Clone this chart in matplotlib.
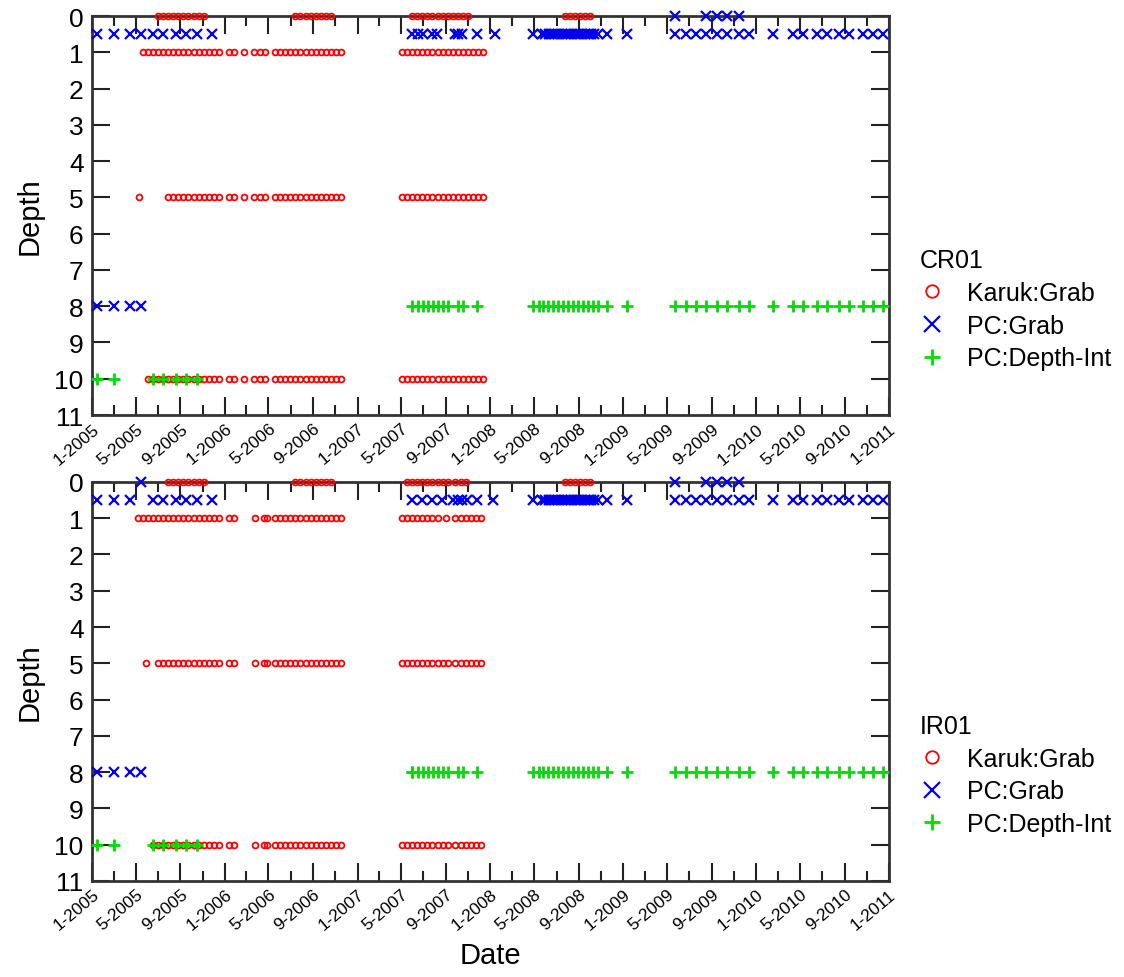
import pandas as pd
import matplotlib
matplotlib.use("Agg")
import matplotlib.pyplot as plt
import matplotlib.dates as mdates
from matplotlib.lines import Line2D
from matplotlib.ticker import FuncFormatter

plt.rcParams['font.family'] = ['Liberation Sans', 'DejaVu Sans']

# ---- Karuk grab sample dates (biweekly runs) ----
karuk_2005_cr_d0 = ["2005-07-01", "2005-07-15", "2005-07-29", "2005-08-12", "2005-08-26", "2005-09-09",
                    "2005-09-23", "2005-10-07", "2005-10-21", "2005-11-04"]
karuk_2005_cr_d1 = ["2005-05-20", "2005-06-03", "2005-06-17", "2005-07-01", "2005-07-15", "2005-07-29",
                    "2005-08-12", "2005-08-26", "2005-09-09", "2005-09-23", "2005-10-07", "2005-10-21",
                    "2005-11-04", "2005-11-18", "2005-12-02", "2005-12-16"]
karuk_2005_cr_d5 = ["2005-05-10", "2005-07-29", "2005-08-12", "2005-08-26", "2005-09-09", "2005-09-23",
                    "2005-10-07", "2005-10-21", "2005-11-04", "2005-11-18", "2005-12-02", "2005-12-16"]
karuk_2005_cr_d10 = ["2005-06-03", "2005-06-17", "2005-07-01", "2005-07-15", "2005-07-29", "2005-08-12",
                     "2005-08-26", "2005-09-09", "2005-09-23", "2005-10-07", "2005-10-21", "2005-11-04",
                     "2005-11-18", "2005-12-02", "2005-12-16"]
karuk_2006_summer = ["2006-07-14", "2006-07-28", "2006-08-11", "2006-08-25", "2006-09-08", "2006-09-22",
                     "2006-10-06", "2006-10-20"]
karuk_2006_cr = ["2006-01-13", "2006-01-27", "2006-02-24", "2006-03-22", "2006-04-07", "2006-04-21",
                 "2006-05-19", "2006-06-02", "2006-06-16", "2006-06-30", "2006-07-14", "2006-07-28",
                 "2006-08-11", "2006-08-25", "2006-09-08", "2006-09-22", "2006-10-06", "2006-10-20",
                 "2006-11-03", "2006-11-17"]
karuk_2007_cr_d0 = ["2007-05-31", "2007-06-14", "2007-06-28", "2007-07-12", "2007-07-26", "2007-08-09",
                    "2007-08-23", "2007-09-06", "2007-09-20", "2007-10-04", "2007-10-18", "2007-11-01"]
karuk_2007_cr = ["2007-05-03", "2007-05-17", "2007-05-31", "2007-06-14", "2007-06-28", "2007-07-12",
                 "2007-07-26", "2007-08-09", "2007-08-23", "2007-09-06", "2007-09-20", "2007-10-04",
                 "2007-10-18", "2007-11-01", "2007-11-15", "2007-11-29", "2007-12-13"]
karuk_2008_d0 = ["2008-07-24", "2008-08-07", "2008-08-21", "2008-09-04", "2008-09-18", "2008-10-02"]
karuk_2008_d05 = ["2008-07-17", "2008-10-02"]

karuk_2005_ir_d0 = ["2005-07-29", "2005-08-12", "2005-08-26", "2005-09-09", "2005-09-23", "2005-10-07",
                    "2005-10-21", "2005-11-04"]
karuk_2005_ir_d1 = ["2005-05-06", "2005-05-20", "2005-06-03", "2005-06-17", "2005-07-01", "2005-07-15",
                    "2005-07-29", "2005-08-12", "2005-08-26", "2005-09-09", "2005-09-23", "2005-10-07",
                    "2005-10-21", "2005-11-04", "2005-11-18", "2005-12-02", "2005-12-16"]
karuk_2005_ir_d5 = ["2005-05-29", "2005-07-01", "2005-07-15", "2005-07-29", "2005-08-12", "2005-08-26",
                    "2005-09-09", "2005-09-23", "2005-10-07", "2005-10-21", "2005-11-04", "2005-11-18",
                    "2005-12-02", "2005-12-16"]
karuk_2005_ir_d10 = ["2005-06-17", "2005-07-01", "2005-07-15", "2005-07-29", "2005-08-12", "2005-08-26",
                     "2005-09-09", "2005-09-23", "2005-10-07", "2005-10-21", "2005-11-04", "2005-11-18",
                     "2005-12-02", "2005-12-16"]
karuk_2006_ir = ["2006-01-13", "2006-01-27", "2006-03-24", "2006-04-18", "2006-04-28",
                 "2006-05-19", "2006-06-02", "2006-06-16", "2006-06-30", "2006-07-14", "2006-07-28",
                 "2006-08-11", "2006-08-25", "2006-09-08", "2006-09-22", "2006-10-06", "2006-10-20",
                 "2006-11-03", "2006-11-17"]
karuk_2007_ir_d0 = ["2007-05-17", "2007-05-31", "2007-06-14", "2007-06-28", "2007-07-12", "2007-07-26",
                    "2007-08-09", "2007-08-23", "2007-09-06", "2007-09-27", "2007-10-11", "2007-10-25"]
karuk_2007_ir_d1 = ["2007-05-03", "2007-05-17", "2007-05-31", "2007-06-14", "2007-06-28", "2007-07-12",
                    "2007-07-26", "2007-08-09", "2007-09-01", "2007-09-27", "2007-10-11", "2007-10-25",
                    "2007-11-08", "2007-11-22", "2007-12-06"]
karuk_2007_ir_d10 = ["2007-05-03", "2007-05-17", "2007-05-31", "2007-06-14", "2007-06-28", "2007-07-12",
                     "2007-07-26", "2007-08-09", "2007-08-23", "2007-09-06", "2007-09-27", "2007-10-11",
                     "2007-10-25", "2007-11-08", "2007-11-22", "2007-12-06"]

# ---- PC grab / depth-integrated sample dates ----
pc_2005_surface = ["2005-01-15", "2005-03-03", "2005-04-15", "2005-05-16", "2005-06-18", "2005-07-15",
                   "2005-08-20", "2005-09-16", "2005-10-17", "2005-11-27"]
pc_2005_d8 = ["2005-01-15", "2005-03-03", "2005-04-15", "2005-05-16"]
pc_2005_int_d10 = ["2005-01-15", "2005-03-03", "2005-06-18", "2005-07-15", "2005-08-20", "2005-09-16",
                   "2005-10-17"]
pc_2007_cr_grab = ["2007-06-01", "2007-06-15", "2007-06-29", "2007-07-24", "2007-08-06", "2007-09-25",
                   "2007-10-03", "2007-10-14", "2007-11-24", "2008-01-13"]
pc_2007_ir_grab = ["2007-06-01", "2007-06-26", "2007-07-26", "2007-08-20", "2007-09-19", "2007-10-03",
                   "2007-10-14", "2007-10-28", "2007-11-24", "2008-01-07"]
pc_2007_int = ["2007-06-01", "2007-06-15", "2007-06-29", "2007-07-13", "2007-07-27", "2007-08-10",
               "2007-08-24", "2007-09-07", "2007-10-03", "2007-10-17", "2007-11-24"]
pc_2008_grab = ["2008-04-27", "2008-05-22", "2008-05-31", "2008-06-09", "2008-06-18", "2008-06-27",
                "2008-07-06", "2008-07-15", "2008-07-24", "2008-08-02", "2008-08-11", "2008-08-20",
                "2008-08-29", "2008-09-07", "2008-09-16", "2008-09-25", "2008-10-04", "2008-10-13",
                "2008-10-22", "2008-11-17", "2009-01-10"]
pc_2008_int = ["2008-04-27", "2008-05-14", "2008-05-25", "2008-06-08", "2008-06-21", "2008-07-05",
               "2008-07-19", "2008-08-02", "2008-08-15", "2008-08-29", "2008-09-12", "2008-09-26",
               "2008-10-09", "2008-10-23", "2008-11-17", "2009-01-10"]
pc_2009_2010 = ["2009-05-23", "2009-06-22", "2009-07-19", "2009-08-16", "2009-09-15", "2009-10-13",
                "2009-11-15", "2009-12-12", "2010-02-16", "2010-04-12", "2010-05-10", "2010-06-17",
                "2010-07-15", "2010-08-17", "2010-09-13", "2010-10-22", "2010-11-18", "2010-12-15"]
pc_2009_d0 = ["2009-05-23", "2009-08-16", "2009-09-15", "2009-10-13", "2009-11-15"]

sites = ["CR01", "IR01"]
series_names = ["Karuk:Grab", "PC:Grab", "PC:Depth-Int"]

# (series, depth, dates) per site
samples = {
    "CR01": [
        ("Karuk:Grab", 0, karuk_2005_cr_d0 + karuk_2006_summer + karuk_2007_cr_d0 + karuk_2008_d0),
        ("Karuk:Grab", 0.5, karuk_2008_d05),
        ("Karuk:Grab", 1, karuk_2005_cr_d1 + karuk_2006_cr + karuk_2007_cr),
        ("Karuk:Grab", 5, karuk_2005_cr_d5 + karuk_2006_cr + karuk_2007_cr),
        ("Karuk:Grab", 10, karuk_2005_cr_d10 + karuk_2006_cr + karuk_2007_cr),
        ("PC:Grab", 0.5, pc_2005_surface + pc_2007_cr_grab + pc_2008_grab + pc_2009_2010),
        ("PC:Grab", 0, pc_2009_d0),
        ("PC:Grab", 8, pc_2005_d8),
        ("PC:Depth-Int", 10, pc_2005_int_d10),
        ("PC:Depth-Int", 8, pc_2007_int + pc_2008_int + pc_2009_2010),
    ],
    "IR01": [
        ("Karuk:Grab", 0, karuk_2005_ir_d0 + karuk_2006_summer + karuk_2007_ir_d0 + karuk_2008_d0),
        ("Karuk:Grab", 0.5, karuk_2008_d05),
        ("Karuk:Grab", 1, karuk_2005_ir_d1 + karuk_2006_ir + karuk_2007_ir_d1),
        ("Karuk:Grab", 5, karuk_2005_ir_d5 + karuk_2006_ir + karuk_2007_ir_d10),
        ("Karuk:Grab", 10, karuk_2005_ir_d10 + karuk_2006_ir + karuk_2007_ir_d10),
        ("PC:Grab", 0.5, [d for d in pc_2005_surface if d != "2005-05-16"] + pc_2007_ir_grab
         + pc_2008_grab + pc_2009_2010),
        ("PC:Grab", 0, ["2005-05-16"] + pc_2009_d0),
        ("PC:Grab", 8, pc_2005_d8),
        ("PC:Depth-Int", 10, pc_2005_int_d10),
        ("PC:Depth-Int", 8, pc_2007_ir_grab[:1] + pc_2007_int + pc_2008_int + pc_2009_2010),
    ],
}

styles = {
    "Karuk:Grab": dict(marker="o", color="#ff0000", mfc="none", ms=4.2, mew=1.3),
    "PC:Grab": dict(marker="x", color="#0000ee", ms=7, mew=1.6),
    "PC:Depth-Int": dict(marker="+", color="#00dd00", ms=9, mew=2.0),
}
legend_sizes = {"Karuk:Grab": 9, "PC:Grab": 11, "PC:Depth-Int": 11}

fig = plt.figure(figsize=(11.24, 9.78), dpi=100)
ax_top = fig.add_axes([0.0819, 0.5746, 0.709, 0.408])
ax_bot = fig.add_axes([0.0819, 0.0982, 0.709, 0.408])

for ax, site in zip([ax_top, ax_bot], sites):
    for name in series_names:
        xs, ys = [], []
        for s, depth, dates in samples[site]:
            if s == name:
                xs += list(pd.to_datetime(dates))
                ys += [depth] * len(dates)
        ax.plot(xs, ys, ls="none", clip_on=False, zorder=3, **styles[name])

    ax.set_xlim(pd.Timestamp("2005-01-01"), pd.Timestamp("2011-01-01"))
    ax.set_ylim(11, 0)
    ax.set_yticks(range(0, 12))
    ax.xaxis.set_major_locator(mdates.MonthLocator(bymonth=[1, 5, 9]))
    ax.xaxis.set_minor_locator(mdates.MonthLocator(bymonth=[3, 7, 11]))
    ax.xaxis.set_major_formatter(FuncFormatter(
        lambda v, pos: "{}-{}".format(mdates.num2date(v).month, mdates.num2date(v).year)))
    ax.tick_params(which="major", direction="in", length=13, width=1.5, top=True, right=True,
                   color="#222222")
    ax.tick_params(which="minor", direction="in", length=7, width=1.5, top=True, right=True,
                   color="#222222")
    ax.tick_params(axis="y", labelsize=19, pad=6)
    ax.tick_params(axis="x", labelsize=12.5, pad=4)
    for lbl in ax.get_xticklabels():
        lbl.set_rotation(40)
        lbl.set_ha("right")
        lbl.set_rotation_mode("anchor")
    for sp in ax.spines.values():
        sp.set_linewidth(2)
        sp.set_color("#333333")
    ax.set_ylabel("Depth", fontsize=21, labelpad=8)

    handles = [Line2D([], [], ls="none", **dict(styles[n], ms=legend_sizes[n])) for n in series_names]
    leg = ax.legend(handles, series_names, title=site, loc="upper left",
                    bbox_to_anchor=(1.01, 0.475), frameon=False, fontsize=18, title_fontsize=18,
                    handlelength=1.0, handletextpad=0.9, labelspacing=0.35, alignment="left")

ax_bot.set_xlabel("Date", fontsize=21, labelpad=6)

fig.savefig("out.png", dpi=100)
